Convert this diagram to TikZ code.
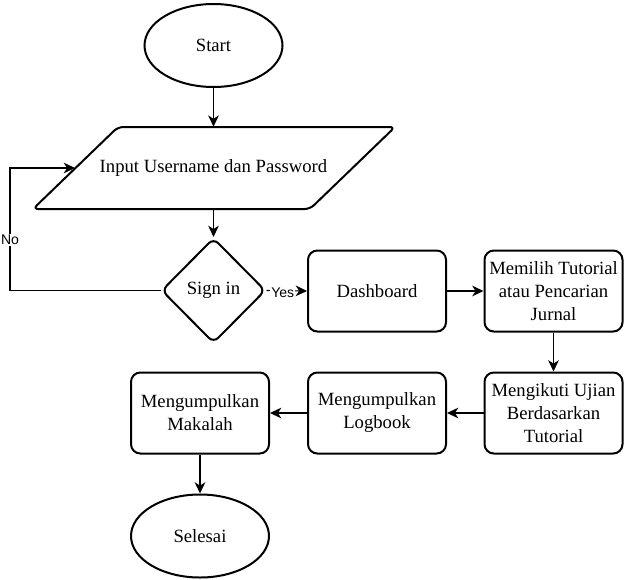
\documentclass[tikz,border=0pt]{standalone}
\usepackage{fontspec}
\setmainfont{Liberation Serif}
\newfontfamily\lblfont{Liberation Sans}
\usetikzlibrary{shapes.geometric,arrows.meta}
\begin{document}
\begin{tikzpicture}[x=0.75pt,y=-0.75pt,
  txt/.style={font=\fontsize{14}{17.25}\selectfont},
  shapeline/.style={draw,line width=1.5pt},
  box/.style={txt,shapeline,rounded corners=7pt,minimum width=103.5pt,minimum height=60.75pt,inner sep=0pt,align=center},
  term/.style={txt,shapeline,ellipse,minimum width=103.5pt,minimum height=62.25pt,inner sep=0pt},
  decision/.style={txt,shapeline,diamond,rounded corners=5pt,minimum width=78pt,minimum height=78.75pt,inner sep=0pt},
  iotext/.style={txt,minimum width=150pt,minimum height=61.5pt,inner sep=0pt},
  conn/.style={line width=0.9pt,-{Stealth[length=8.5pt,width=8pt,inset=2.6pt]}},
  lbl/.style={fill=white,inner sep=1pt,font=\lblfont\fontsize{10.5}{12}\selectfont}
]
\useasboundingbox (0,0) rectangle (625,579);

\node[term] (start) at (213.5,45.5) {Start};
\draw[shapeline,rounded corners=4pt] (250,127) -- (395,127) -- (310,209) -- (33,209) -- (118,127) -- (250,127);
\node[iotext] (in) at (213.5,168) {Input Username dan Password};
\coordinate (inL) at (75,168);
\node[decision] (sign) at (213.5,290.5) {Sign in};
\node[box] (dash) at (377,291) {Dashboard};
\node[box] (mem) at (553.5,291) {Memilih Tutorial\\atau Pencarian\\Jurnal};
\node[box] (ikut) at (553.5,413) {Mengikuti Ujian\\Berdasarkan\\Tutorial};
\node[box] (log) at (377,413) {Mengumpulkan\\Logbook};
\node[box] (mak) at (200,413) {Mengumpulkan\\Makalah};
\node[term] (sel) at (200,536) {Selesai};
\coordinate (noX) at (10,240);

\draw[conn] (start) -- (in.north);
\draw[conn] (in.south) -- (sign.north);
\draw[conn] (sign.east) -- node[lbl,pos=0.4,yshift=-1.5pt] {Yes} (dash.west);
\draw[conn] (sign.west) -- (sign.west -| noX) |- (inL);
\node[lbl] (no) at (noX) {No};
\draw[conn] (dash.east) -- (mem.west);
\draw[conn] (mem.south) -- (ikut.north);
\draw[conn] (ikut.west) -- (log.east);
\draw[conn] (log.west) -- (mak.east);
\draw[conn] (mak.south) -- (sel.north);
\end{tikzpicture}
\end{document}
